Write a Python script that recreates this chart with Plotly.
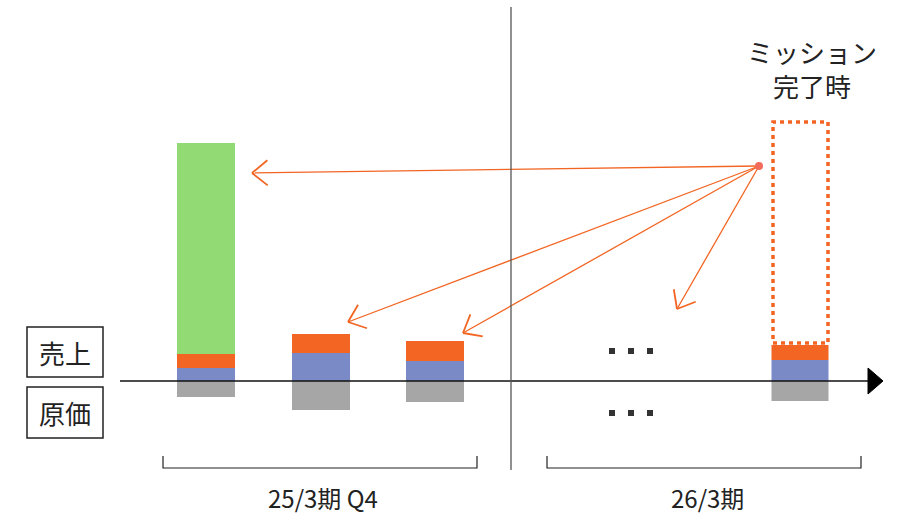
import math
import plotly.graph_objects as go

# ---- data (units: 1 unit = 1 px, baseline = 0) ----
bar_x = [206, 321, 435, 800]
bar_w = [58, 58, 58, 57]
cost = [-16, -29, -21, -20]          # 原価 (gray, below axis)
sales_blue = [13, 28, 20, 21]        # 売上 part 1
sales_orange = [14, 19, 20, 15]      # 売上 part 2
sales_green = [211, 0, 0, 0]         # 売上 part 3
mission_target = 259                 # dotted target bar top
mission_bottom = 38

arrow_origin = (759, 215)
arrow_tips = [(252, 208), (348, 59), (463, 48), (677, 72)]

dots_x = [612, 631, 650]
dots_y = [30, -32]

period_labels = ["25/3期 Q4", "26/3期"]
period_spans = [(163, 477), (547, 861)]

ORANGE = "#F26522"
BLUE = "#7A8AC6"
GREEN = "#92DB74"
GRAY = "#A6A6A6"
FONT = "Noto Sans CJK JP"

fig = go.Figure()
for vals, col in [(sales_blue, BLUE), (sales_orange, ORANGE), (sales_green, GREEN), (cost, GRAY)]:
    fig.add_trace(go.Bar(x=bar_x, y=vals, width=bar_w, marker=dict(color=col, line=dict(width=0)),
                         hoverinfo="skip"))

# arrows
for tip in arrow_tips:
    ox, oy = arrow_origin
    tx, ty = tip
    fig.add_trace(go.Scatter(x=[ox, tx], y=[oy, ty], mode="lines",
                             line=dict(color=ORANGE, width=1.3), hoverinfo="skip"))
    dx, dy = ox - tx, oy - ty
    n = math.hypot(dx, dy)
    ux, uy = dx / n, dy / n
    L, a = 20, math.radians(39)
    hx, hy = [], []
    for s in (1, -1):
        c, si = math.cos(s * a), math.sin(s * a)
        rx, ry = ux * c - uy * si, ux * si + uy * c
        hx += [tx + L * rx, tx, None]
        hy += [ty + L * ry, ty, None]
    fig.add_trace(go.Scatter(x=hx, y=hy, mode="lines", line=dict(color=ORANGE, width=1.8),
                             hoverinfo="skip", connectgaps=False))
fig.add_trace(go.Scatter(x=[arrow_origin[0]], y=[arrow_origin[1]], mode="markers",
                         marker=dict(color="#F26B5B", size=8), hoverinfo="skip"))

# dots
for yy in dots_y:
    fig.add_trace(go.Scatter(x=dots_x, y=[yy] * len(dots_x), mode="markers",
                             marker=dict(symbol="square", size=6, color="#333333"), hoverinfo="skip"))

shapes = []
# axis line + arrowhead
shapes.append(dict(type="line", x0=120, x1=870, y0=0, y1=0, line=dict(color="#111111", width=1.5)))
shapes.append(dict(type="path", path="M 868 13 L 868 -13 L 883 0 Z", fillcolor="#000000",
                   line=dict(color="#000000", width=1)))
# separator
shapes.append(dict(type="line", x0=511, x1=511, y0=374, y1=-89, line=dict(color="#555555", width=1.3)))
# brackets
for (a0, a1) in period_spans:
    shapes.append(dict(type="path", path=f"M {a0} -75 L {a0} -87 L {a1} -87 L {a1} -75",
                       line=dict(color="#222222", width=1.2)))
# label boxes
shapes.append(dict(type="rect", x0=27, x1=103, y0=4, y1=54, line=dict(color="#222222", width=1.5)))
shapes.append(dict(type="rect", x0=27, x1=103, y0=-6, y1=-57, line=dict(color="#222222", width=1.5)))
# dotted mission target
shapes.append(dict(type="rect", x0=773, x1=828, y0=mission_bottom, y1=mission_target,
                   line=dict(color=ORANGE, width=3.5, dash="4px,4px")))

annotations = [
    dict(x=65, y=29, text="売上", showarrow=False, font=dict(family=FONT, size=26, color="#222222")),
    dict(x=65, y=-31, text="原価", showarrow=False, font=dict(family=FONT, size=26, color="#222222")),
    dict(x=812, y=313, text="ミッション<br>完了時", showarrow=False,
         font=dict(family=FONT, size=26, color="#222222")),
]
for lab, (a0, a1) in zip(period_labels, period_spans):
    annotations.append(dict(x=(a0 + a1) / 2 + 3, y=-116, text=lab, showarrow=False, borderpad=0,
                            font=dict(family=FONT, size=24, color="#222222")))

fig.update_layout(
    width=899, height=516, margin=dict(l=0, r=0, t=0, b=0),
    paper_bgcolor="white", plot_bgcolor="white",
    barmode="relative", showlegend=False,
    xaxis=dict(range=[0, 899], visible=False, fixedrange=True),
    yaxis=dict(range=[-135, 381], visible=False, fixedrange=True),
    shapes=shapes, annotations=annotations,
)
fig.write_html("out.html")
